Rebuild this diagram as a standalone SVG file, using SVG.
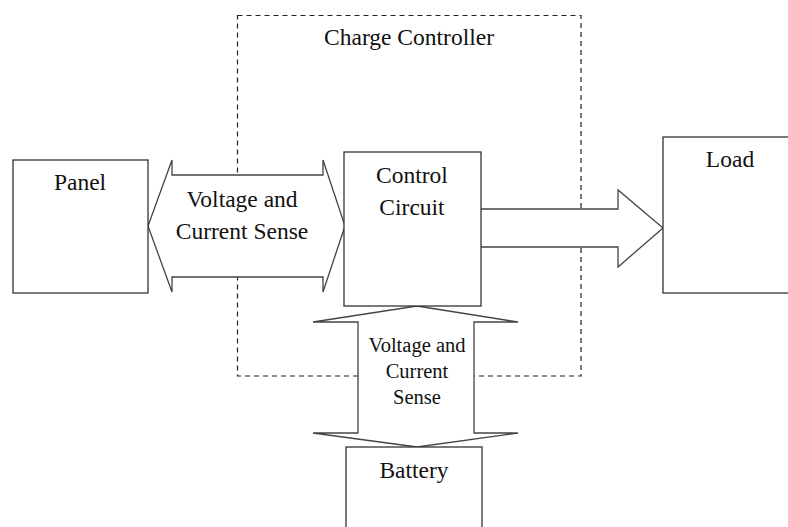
<svg xmlns="http://www.w3.org/2000/svg" width="788" height="527" viewBox="0 0 788 527">
<style>
.box{fill:#fff;stroke:#333;stroke-width:1.3}
.arr{fill:#fff;stroke:#444;stroke-width:1.3;stroke-linejoin:miter}
.dash{fill:none;stroke:#222;stroke-width:1.2;stroke-dasharray:5 4}
text{font-family:"Liberation Serif","Times New Roman",serif;font-size:23.5px;fill:#111;text-anchor:middle}
.sm{font-size:20.5px}
</style>
<rect width="788" height="527" fill="#fff"/>
<g id="charge-controller">
<rect class="dash" x="237.5" y="15.5" width="343.5" height="360.5"/>
<text x="409" y="45">Charge Controller</text>
</g>
<g id="connectors">
<path id="panel-control" class="arr" d="M148,226 L172,160 L172,175 L323,175 L323,160 L345,226 L323,292 L323,277 L172,277 L172,292 Z"/>
<path id="control-load" class="arr" d="M481,209 L618,209 L618,190 L663,228 L618,267 L618,247 L481,247"/>
<path id="control-battery" class="arr" d="M417,306 L518,322 L474,322 L474,433 L518,433 L417,447 L313,433 L358,433 L358,322 L313,322 Z"/>
</g>
<g id="panel">
<rect class="box" x="13" y="160" width="135" height="133"/>
<text x="80" y="190">Panel</text>
</g>
<g id="control-circuit">
<rect class="box" x="344" y="152" width="137" height="154"/>
<text x="412" y="183">Control</text>
<text x="412" y="215">Circuit</text>
</g>
<g id="load">
<rect class="box" x="663" y="137" width="140" height="156"/>
<text x="730" y="167">Load</text>
</g>
<g id="battery">
<rect class="box" x="346" y="447" width="136" height="100"/>
<text x="414" y="478">Battery</text>
</g>
<g id="labels">
<text x="242" y="207">Voltage and</text>
<text x="242" y="239">Current Sense</text>
<text class="sm" x="417" y="352">Voltage and</text>
<text class="sm" x="417" y="378">Current</text>
<text class="sm" x="417" y="404">Sense</text>
</g>
</svg>
